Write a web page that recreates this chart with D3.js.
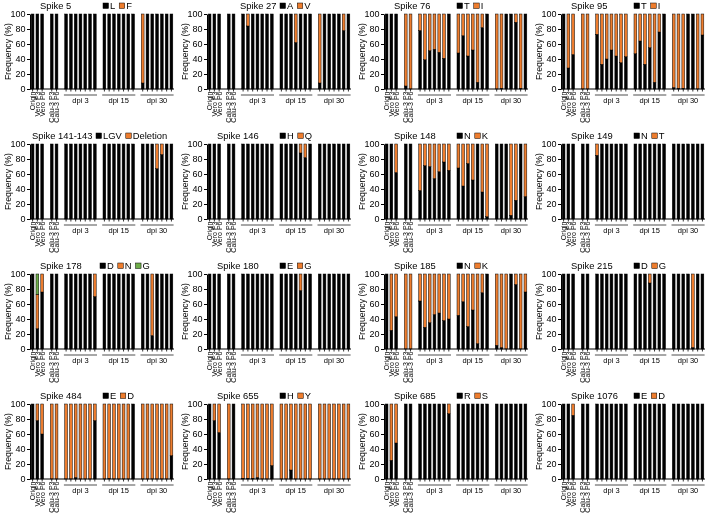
<!DOCTYPE html>
<html><head><meta charset="utf-8">
<script src="https://cdn.jsdelivr.net/npm/d3@7"></script>
<style>body{margin:0;background:#fff} svg{will-change:transform} text{font-family:"Liberation Sans",Arial,Helvetica,sans-serif;fill:#000}</style>
</head><body><svg id="c" width="708" height="520"></svg>
<script>
// ---- data ----
const categories = ["Origin","Vero P3","Vero P6","Calu-3 P3","Calu-3 P6",
  "d3-1","d3-2","d3-3","d3-4","d3-5","d3-6","d3-7",
  "d15-1","d15-2","d15-3","d15-4","d15-5","d15-6","d15-7",
  "d30-1","d30-2","d30-3","d30-4","d30-5","d30-6","d30-7"];
const groupSizes = [3,2,7,7,7];
const groupLabels = [null,null,"dpi 3","dpi 15","dpi 30"];
const yTicks = [0,20,40,60,80,100];
const titles = ["Spike 5","Spike 27","Spike 76","Spike 95","Spike 141-143","Spike 146","Spike 148","Spike 149",
  "Spike 178","Spike 180","Spike 185","Spike 215","Spike 484","Spike 655","Spike 685","Spike 1076"];
const alleles = [["L","F"],["A","V"],["T","I"],["T","I"],["LGV","Deletion"],["H","Q"],["N","K"],["N","T"],
  ["D","N","G"],["E","G"],["N","K"],["D","G"],["E","D"],["H","Y"],["R","S"],["E","D"]];

// first-allele frequency (%) per bar (order = categories)
const s5    = [100,100,100, 100,100, 100,100,100,100,100,100,100, 100,100,100,100,100,100,100, 8,100,100,100,100,100,100];
const s27   = [100,100,100, 100,100, 100,84,100,100,100,100,100, 100,100,100,62,100,100,100, 8,100,100,100,100,78,100];
const s76   = [100,100,100, 4,0, 78,39,51,53,49,41,100, 48,71,44,52,9,82,100, 0,1,100,100,89,1,100];
const s95   = [100,28,46, 0,0, 73,33,40,52,44,35,43, 47,64,33,55,9,76,100, 2,1,1,100,100,0,72];
const s141  = [100,100,100, 100,100, 100,100,100,100,100,100,100, 100,100,100,100,100,100,100, 100,100,100,67,86,100,100];
const s146  = [100,100,100, 100,100, 100,100,100,100,100,100,100, 100,100,100,100,88,82,100, 100,100,100,100,100,100,100];
const s148  = [100,100,62, 100,100, 38,71,70,54,63,76,65, 68,44,74,52,100,36,3, 100,100,100,5,25,100,30];
const s149  = [100,100,100, 100,100, 85,100,100,100,100,100,100, 100,100,100,100,100,100,100, 100,100,100,100,100,100,100];
const s178D = [100,27,76, 100,100, 100,100,100,100,100,100,70, 100,100,100,100,100,100,100, 100,100,18,100,100,100,100];
const s178N = [0,46,24, 0,0, 0,0,0,0,0,0,30, 0,0,0,0,0,0,0, 0,0,82,0,0,0,0];
const s180  = [100,100,100, 100,100, 100,100,100,100,100,100,100, 100,100,100,100,78,100,100, 100,100,100,100,100,100,100];
const s185  = [100,25,43, 0,0, 64,29,35,46,48,38,40, 45,63,30,52,7,75,100, 5,2,0,100,86,0,76];
const s215  = [100,100,100, 100,100, 100,100,100,100,100,100,100, 100,100,100,88,100,100,100, 100,100,100,100,2,100,100];
const s484  = [100,78,60, 0,0, 0,0,2,0,0,0,78, 0,1,0,0,0,0,100, 0,0,0,0,0,0,31];
const s655  = [100,78,62, 0,100, 1,1,1,2,0,0,18, 0,0,12,0,0,0,0, 0,0,0,0,0,0,0];
const s685  = [100,25,48, 100,100, 100,100,100,100,100,100,87, 100,100,100,100,100,100,100, 100,100,100,100,100,100,100];
const s1076 = [100,100,85, 100,100, 100,100,100,100,100,100,100, 100,100,100,100,100,100,100, 100,100,100,100,100,100,100];

const firstAllele = [s5,s27,s76,s95,s141,s146,s148,s149,s178D,s180,s185,s215,s484,s655,s685,s1076];
const secondAllele = {8: s178N};   // panels with a third allele give the middle one explicitly

const colors = ["#000000","#ee7d2e","#6fae4a"];

// ---- layout ----
const svg = d3.select("#c");
const nSlots = d3.sum(groupSizes) + groupSizes.length - 1; // one empty slot between groups
const slotOf = [];
let s = 0;
groupSizes.forEach((n,gi)=>{ for(let j=0;j<n;j++) slotOf.push(s++); s++; });
const titleDx = {1:33, 4:2};
const legendDx = {4:66, 8:70};

titles.forEach((title,k)=>{
  const col = k%4, row = Math.floor(k/4);
  const x0 = 30 + col*177, yTop = 14 + row*130, h = 75, w = 144;
  const g = svg.append("g");
  const x = d3.scaleBand().domain(d3.range(nSlots)).range([x0, x0+w]).paddingInner(0.42).paddingOuter(0.25);
  const y = d3.scaleLinear().domain([0,100]).range([yTop+h, yTop]);

  // stacked segments
  const a = firstAllele[k];
  const segs = [];
  a.forEach((v,i)=>{
    const mid = secondAllele[k] ? secondAllele[k][i] : 100 - v;
    const vals = secondAllele[k] ? [v, mid, 100 - v - mid] : [v, 100 - v];
    let acc = 0;
    vals.forEach((val,ci)=>{
      if (val > 0) segs.push({i, lo:acc, hi:acc+val, c:colors[ci]});
      acc += val;
    });
  });
  g.selectAll("rect.seg").data(segs).join("rect").attr("class","seg")
    .attr("x", d=>x(slotOf[d.i])).attr("width", x.bandwidth())
    .attr("y", d=>y(d.hi)).attr("height", d=>y(d.lo)-y(d.hi))
    .attr("fill", d=>d.c).attr("stroke","#000").attr("stroke-width",0.5);

  // y axis
  const ya = g.append("g").attr("transform",`translate(${x0},0)`)
    .call(d3.axisLeft(y).tickValues(yTicks).tickSize(3).tickSizeOuter(0).tickPadding(1.5));
  ya.selectAll("text").attr("font-size",9).attr("fill","#000").style("font-family","Liberation Sans, Arial, sans-serif");
  ya.selectAll("line,path").attr("stroke","#000").attr("stroke-width",1);

  // x axis line and ticks
  const y0 = y(0);
  g.append("line").attr("x1",x0).attr("x2",x0+w).attr("y1",y0).attr("y2",y0).attr("stroke","#000").attr("stroke-width",1);
  g.selectAll("line.xt").data(a).join("line").attr("class","xt")
    .attr("x1",(d,i)=>x(slotOf[i])+x.bandwidth()/2).attr("x2",(d,i)=>x(slotOf[i])+x.bandwidth()/2)
    .attr("y1",y0).attr("y2",y0+2.5).attr("stroke","#000").attr("stroke-width",0.8);

  // rotated labels for the first 5 categories
  categories.slice(0,5).forEach((c,i)=>{
    const cx = x(slotOf[i]) + x.bandwidth()/2;
    g.append("text").text(c).attr("font-size",7).attr("text-anchor","end").attr("fill","#000")
      .attr("transform",`translate(${cx+2.5},${y0+2.5}) rotate(-90)`);
  });

  // group underlines and labels
  let start = 0;
  groupSizes.forEach((n,gi)=>{
    if (groupLabels[gi]) {
      const xa = x(slotOf[start]) - 0.8, xb = x(slotOf[start+n-1]) + x.bandwidth() + 0.8;
      g.append("line").attr("x1",xa).attr("x2",xb).attr("y1",y0+6).attr("y2",y0+6)
        .attr("stroke","#8a8a8a").attr("stroke-width",1.4);
      g.append("text").text(groupLabels[gi]).attr("x",(xa+xb)/2).attr("y",y0+13.5).attr("fill","#000")
        .attr("text-anchor","middle").attr("font-size",7.5);
    }
    start += n;
  });

  // y label
  g.append("text").text("Frequency (%)").attr("font-size",8.7).attr("text-anchor","middle").attr("fill","#000")
    .attr("transform",`translate(${x0-19.5},${yTop+h/2}) rotate(-90)`);

  // title
  const tb = yTop - 5;
  g.append("text").text(title).attr("x", x0 + (titleDx[k] ?? 10)).attr("y", tb).attr("font-size",9.4).attr("fill","#000");

  // legend
  let lx = x0 + (legendDx[k] ?? 73);
  alleles[k].forEach((lab,ci)=>{
    g.append("rect").attr("x",lx).attr("y",tb-6).attr("width",5.5).attr("height",5.5)
      .attr("fill",colors[ci]).attr("stroke","#000").attr("stroke-width",0.5);
    const t = g.append("text").text(lab).attr("x",lx+7).attr("y",tb).attr("font-size",9.4).attr("fill","#000");
    lx += 7 + t.node().getComputedTextLength() + 4;
  });
});
</script></body></html>
